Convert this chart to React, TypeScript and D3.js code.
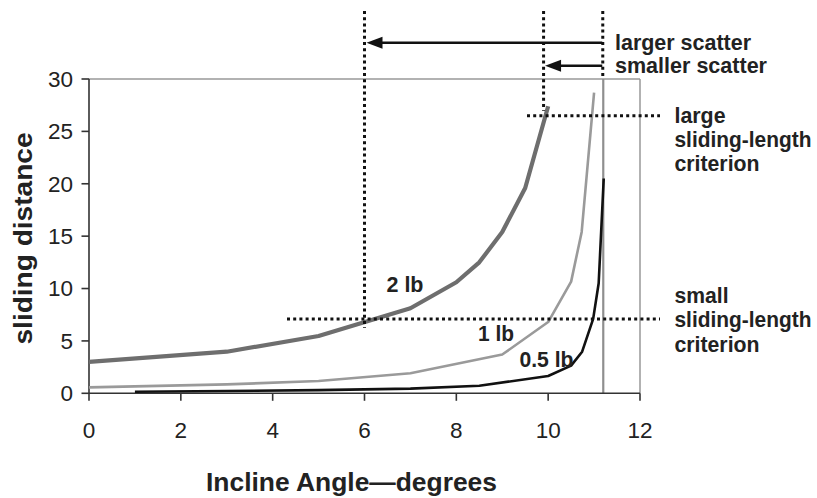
import React from "react";
import * as d3 from "d3";

// ---- data ----
const x2lb = [0, 3, 5, 7, 8, 8.5, 9, 9.5, 10];
const y2lb = [3.0, 3.97, 5.47, 8.12, 10.6, 12.5, 15.4, 19.6, 27.4];
const x1lb = [0, 3, 5, 7, 9, 10, 10.5, 10.73, 11.0];
const y1lb = [0.57, 0.85, 1.17, 1.91, 3.7, 6.8, 10.66, 15.4, 28.7];
const xHalf = [1, 3, 5, 7, 8.5, 10, 10.5, 10.74, 10.98, 11.1, 11.21];
const yHalf = [0.15, 0.22, 0.3, 0.45, 0.72, 1.65, 2.64, 3.97, 7.1, 10.5, 20.5];
const xTicks = [0, 2, 4, 6, 8, 10, 12];
const yTicks = [0, 5, 10, 15, 20, 25, 30];
const limitAngle = 11.2;
const largerScatterAngle = 6;
const smallerScatterAngle = 9.9;
const smallCriterion = 7.1;
const largeCriterion = 26.5;

const FONT = "'Liberation Sans', Arial, Helvetica, sans-serif";
const TXT = "#222";

export default function App() {
  const W = 817, H = 498;
  const x = d3.scaleLinear().domain([0, 12]).range([89, 640]);
  const y = d3.scaleLinear().domain([0, 30]).range([393.3, 79]);
  const line = d3.line<[number, number]>().x(d => x(d[0])).y(d => y(d[1]));
  const mk = (xs: number[], ys: number[]) => xs.map((v, i) => [v, ys[i]] as [number, number]);

  const topDot = 11;
  const arrowY1 = 42.7, arrowY2 = 65.7;
  const dotStyle = { stroke: "#111", strokeWidth: 3, strokeDasharray: "3,3.2", fill: "none" } as const;

  const arrow = (x1: number, x2: number, yy: number) => {
    const tip = x2, len = 16, hw = 6;
    return (
      <g>
        <line x1={x1} x2={tip + len - 1} y1={yy} y2={yy} stroke="#111" strokeWidth={2.5} />
        <path d={`M${tip},${yy} L${tip + len},${yy - hw} L${tip + len},${yy + hw} Z`} fill="#111" />
      </g>
    );
  };

  const label = (t: string, px: number, py: number, tl: number, size = 22) => (
    <text x={px} y={py} fontFamily={FONT} fontWeight="bold" fontSize={size} fill={TXT}
      textLength={tl} lengthAdjust="spacingAndGlyphs">{t}</text>
  );

  return (
    <svg width={W} height={H} style={{ position: "absolute", left: 0, top: 0, background: "#fff" }}>
      <rect width={W} height={H} fill="#fff" />
      {/* plot frame top/right */}
      <line x1={x(0)} x2={x(12)} y1={y(30)} y2={y(30)} stroke="#999" strokeWidth={1.5} />
      <line x1={x(12)} x2={x(12)} y1={y(30)} y2={y(0)} stroke="#999" strokeWidth={1.5} />
      {/* limit angle line */}
      <line x1={x(limitAngle)} x2={x(limitAngle)} y1={y(30)} y2={y(0)} stroke="#8f8f8f" strokeWidth={2.2} />

      {/* axes */}
      <line x1={x(0)} x2={x(0)} y1={y(30)} y2={y(0)} stroke="#333" strokeWidth={1.6} />
      <line x1={x(0)} x2={x(12)} y1={y(0)} y2={y(0)} stroke="#333" strokeWidth={1.6} />
      {yTicks.map(t => (
        <g key={"y" + t}>
          <line x1={x(0) - 7.5} x2={x(0)} y1={y(t)} y2={y(t)} stroke="#333" strokeWidth={1.6} />
          <text x={73} y={y(t) + 7.8} textAnchor="end" fontFamily={FONT} fontSize={22.5} fill={TXT}>{t}</text>
        </g>
      ))}
      {xTicks.map(t => (
        <g key={"x" + t}>
          <line x1={x(t)} x2={x(t)} y1={y(0)} y2={y(0) + 7.5} stroke="#333" strokeWidth={1.6} />
          <text x={x(t)} y={437.5} textAnchor="middle" fontFamily={FONT} fontSize={22.5} fill={TXT}>{t}</text>
        </g>
      ))}

      {/* series */}
      <path d={line(mk(x1lb, y1lb)) || ""} fill="none" stroke="#9a9a9a" strokeWidth={2.6} strokeLinejoin="round" />
      <path d={line(mk(xHalf, yHalf)) || ""} fill="none" stroke="#111" strokeWidth={2.6} strokeLinejoin="round" />
      <path d={line(mk(x2lb, y2lb)) || ""} fill="none" stroke="#6e6e6e" strokeWidth={4.2} strokeLinejoin="round" />

      {/* criteria (dotted) */}
      <line x1={287} x2={660} y1={y(smallCriterion)} y2={y(smallCriterion)} style={dotStyle} />
      <line x1={527} x2={660} y1={y(largeCriterion)} y2={y(largeCriterion)} style={dotStyle} />
      <line x1={x(largerScatterAngle)} x2={x(largerScatterAngle)} y1={topDot} y2={328} style={dotStyle} />
      <line x1={x(smallerScatterAngle)} x2={x(smallerScatterAngle)} y1={topDot} y2={111} style={dotStyle} />
      <line x1={x(limitAngle) - 0.5} x2={x(limitAngle) - 0.5} y1={topDot} y2={y(30)} style={dotStyle} />

      {/* arrows */}
      {arrow(x(limitAngle) - 1, x(largerScatterAngle) + 2, arrowY1)}
      {arrow(x(limitAngle) - 1, x(smallerScatterAngle) + 1.5, arrowY2)}

      {/* annotation text */}
      {label("larger scatter", 615, 50, 136)}
      {label("smaller scatter", 615, 73, 152)}
      {label("large", 674.5, 123, 51)}
      {label("sliding-length", 674.5, 147, 137, 21.5)}
      {label("criterion", 674.5, 171, 85)}
      {label("small", 674.5, 302.5, 54)}
      {label("sliding-length", 674.5, 327, 137, 21.5)}
      {label("criterion", 674.5, 351.5, 85)}

      {label("2 lb", 386.5, 292, 37, 21.5)}
      {label("1 lb", 478, 341, 36, 21.5)}
      {label("0.5 lb", 519.5, 366.5, 54, 21.5)}

      {/* axis titles */}
      <text x={206} y={491} fontFamily={FONT} fontWeight="bold" fontSize={25.5} fill={TXT}
        textLength={291} lengthAdjust="spacingAndGlyphs">Incline Angle—degrees</text>
      <text transform="translate(31.5,238.5) rotate(-90)" textAnchor="middle" fontFamily={FONT} fontWeight="bold"
        fontSize={25.5} fill={TXT} textLength={212} lengthAdjust="spacingAndGlyphs">sliding distance</text>
    </svg>
  );
}
